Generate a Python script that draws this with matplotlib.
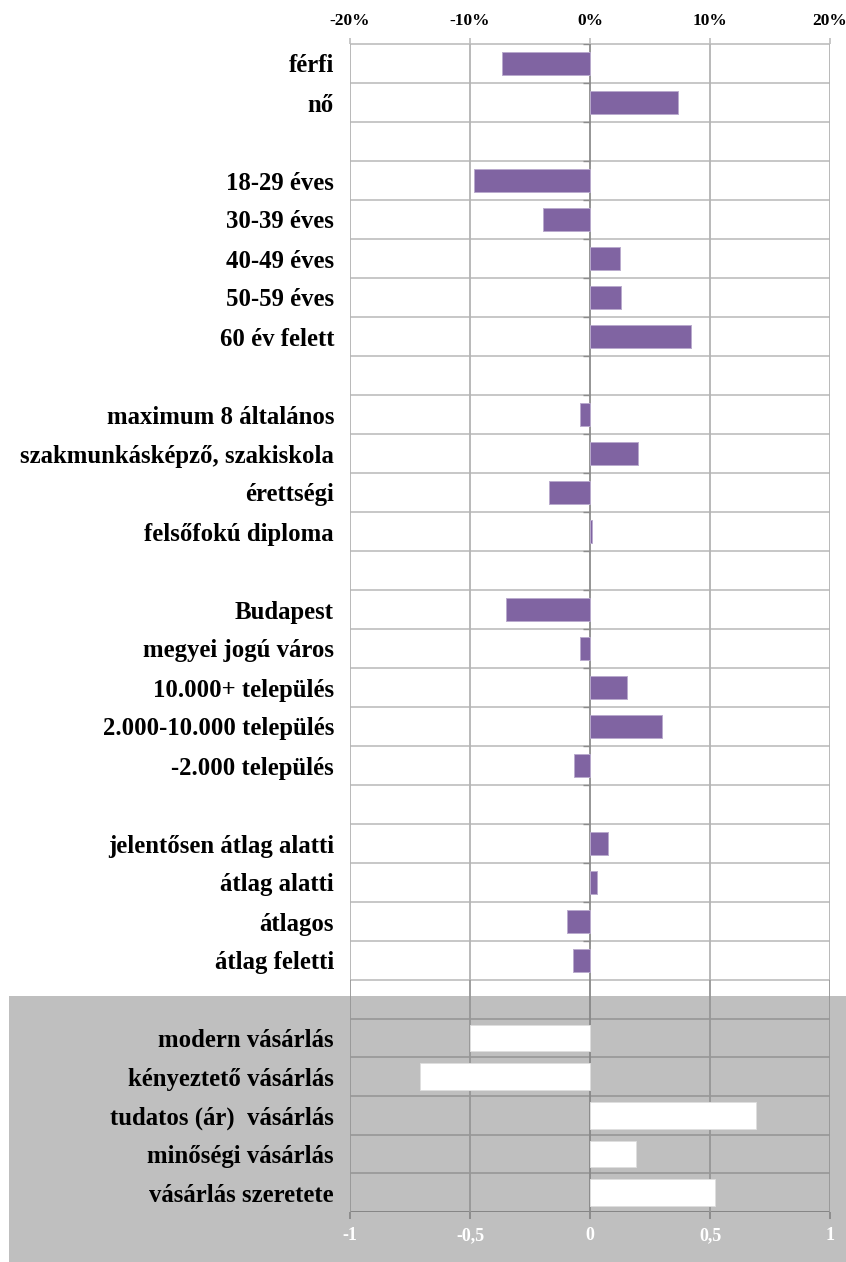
import numpy as np
import matplotlib
matplotlib.use("Agg")
import matplotlib.pyplot as plt
from matplotlib.patches import Rectangle

# --- data -----------------------------------------------------------------
gender_labels = ["férfi", "nő"]
gender_values = [-7.3, 7.3]

age_labels = ["18-29 éves", "30-39 éves", "40-49 éves", "50-59 éves", "60 év felett"]
age_values = [-9.7, -3.9, 2.5, 2.6, 8.4]

edu_labels = ["maximum 8 általános", "szakmunkásképző, szakiskola",
              "érettségi", "felsőfokú diploma"]
edu_values = [-0.8, 4.0, -3.4, 0.2]

settlement_labels = ["Budapest", "megyei jogú város", "10.000+ település",
                     "2.000-10.000 település", "-2.000 település"]
settlement_values = [-7.0, -0.8, 3.1, 6.0, -1.3]

income_labels = ["jelentősen átlag alatti", "átlag alatti", "átlagos", "átlag feletti"]
income_values = [1.5, 0.6, -1.9, -1.4]

style_labels = ["modern vásárlás", "kényeztető vásárlás", "tudatos (ár)  vásárlás",
                "minőségi vásárlás", "vásárlás szeretete"]
style_values = [-0.50, -0.71, 0.69, 0.19, 0.52]

pct_ticks = [-20, -10, 0, 10, 20]
pct_tick_labels = ["-20%", "-10%", "0%", "10%", "20%"]
score_ticks = [-1, -0.5, 0, 0.5, 1]
score_tick_labels = ["-1", "-0,5", "0", "0,5", "1"]

# --- layout of the upper chart: groups separated by an empty row ------------
groups = [(gender_labels, gender_values), (age_labels, age_values),
          (edu_labels, edu_values), (settlement_labels, settlement_values),
          (income_labels, income_values)]
row_labels, row_pos, row_vals = [], [], []
r = 0
for gi, (labs, vals) in enumerate(groups):
    if gi > 0:
        r += 1
    for lab, v in zip(labs, vals):
        row_labels.append(lab)
        row_pos.append(r)
        row_vals.append(v)
        r += 1
n_rows = r

FONT = ["Liberation Serif", "DejaVu Serif"]
plt.rcParams["font.family"] = FONT
LABEL_SIZE = 17.8
TOP_TICK_SIZE = 12.5
BOTTOM_TICK_SIZE = 13

W, H = 846, 1262
fig = plt.figure(figsize=(W / 100, H / 100), dpi=100)
fig.patch.set_facecolor("white")

# grey panel behind the shopping-style chart
fig.patches.append(Rectangle((9 / W, 0), 1 - 9 / W, (H - 996) / H,
                             transform=fig.transFigure, facecolor="#bfbfbf",
                             edgecolor="none", zorder=-5))

# --- upper chart -------------------------------------------------------------
ax1 = fig.add_axes([350 / W, 1 - 980 / H, 480 / W, 936 / H])
ax1.set_facecolor("none")
ax1.barh(row_pos, row_vals, height=0.6, color="#8064a2",
         edgecolor="#b9aacd", linewidth=0.7, zorder=3)
ax1.set_xlim(-20, 20)
ax1.set_ylim(n_rows - 0.5, -0.5)

bounds1 = np.arange(-0.5, n_rows, 1.0)
ax1.hlines(bounds1, -20, 20, color="#c3c3c3", lw=1.3, zorder=1, clip_on=False)
for x in pct_ticks:
    ax1.axvline(x, color="#b3b3b3" if x != 0 else "#8c8c8c", lw=1.3, zorder=1.5)
ax1.hlines(bounds1[:-1], -0.55, 0, color="#8c8c8c", lw=1.0, zorder=2)

ax1.xaxis.tick_top()
ax1.set_xticks(pct_ticks, pct_tick_labels)
ax1.set_yticks(row_pos, row_labels)
ax1.tick_params(axis="y", length=0, pad=11.5, labelsize=LABEL_SIZE)
ax1.tick_params(axis="x", length=4, width=1.2, color="#bdbdbd", pad=7,
                labelsize=TOP_TICK_SIZE)
for lab in ax1.get_xticklabels() + ax1.get_yticklabels():
    lab.set_fontweight("bold")
for s in ax1.spines.values():
    s.set_visible(False)

# --- lower chart (shopping styles) ---------------------------------------
ax2 = fig.add_axes([350 / W, 1 - 1212 / H, 480 / W, 232 / H])
ax2.set_facecolor("none")
style_pos = np.arange(1, len(style_labels) + 1)
ax2.barh(style_pos, style_values, height=0.69, color="white",
         edgecolor="#dedede", linewidth=0.7, zorder=3)
ax2.set_xlim(-1, 1)
ax2.set_ylim(len(style_labels) + 0.5, -0.5)

bounds2 = np.arange(0.5, len(style_labels) + 1, 1.0)
ax2.hlines(bounds2[:-1], -1, 1, color="#9a9a9a", lw=1.3, zorder=1)
ax2.hlines(bounds2[-1], -1, 1, color="#858585", lw=1.4, zorder=1)
for x in score_ticks:
    ax2.axvline(x, color="#979797" if x != 0 else "#888888", lw=1.3, zorder=1.5)

ax2.set_xticks(score_ticks, score_tick_labels)
ax2.set_yticks(style_pos, style_labels)
ax2.tick_params(axis="y", length=0, pad=11.5, labelsize=LABEL_SIZE)
ax2.tick_params(axis="x", length=5, width=1.2, color="#858585", pad=6,
                labelsize=BOTTOM_TICK_SIZE, labelcolor="white")
for lab in ax2.get_xticklabels() + ax2.get_yticklabels():
    lab.set_fontweight("bold")
for s in ax2.spines.values():
    s.set_visible(False)

fig.savefig("out.png", dpi=100)
